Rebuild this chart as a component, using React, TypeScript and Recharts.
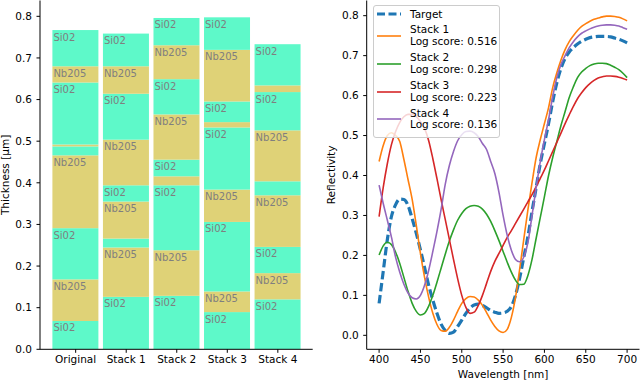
import React from 'react';
import { BarChart, Bar, XAxis, YAxis, LineChart, Line } from 'recharts';

// ---- left panel: layer stacks (thickness in µm, bottom to top, Si02 / Nb205 alternating)
const stackNames = ['Original', 'Stack 1', 'Stack 2', 'Stack 3', 'Stack 4'];
const originalLayers = [0.068, 0.1, 0.123, 0.175, 0.0215, 0.0045, 0.149, 0.039, 0.087];
const stack1Layers = [0.126, 0.1186, 0.0214, 0.089, 0.039, 0.1096, 0.1104, 0.066, 0.0785];
const stack2Layers = [0.1285, 0.1095, 0.156, 0.0216, 0.04, 0.1087, 0.0847, 0.0815, 0.0655];
const stack3Layers = [0.0894, 0.0496, 0.167, 0.0777, 0.1493, 0.0128, 0.0496, 0.124, 0.0782];
const stack4Layers = [0.12, 0.063, 0.063, 0.124, 0.0336, 0.1224, 0.092, 0.016, 0.099];
const materials = ['Si02', 'Nb205'];
const thicknessTicks = [0, 0.1, 0.2, 0.3, 0.4, 0.5, 0.6, 0.7, 0.8];

// ---- right panel: reflectivity spectra
const wavelengths = [
  400, 405, 410, 415, 420, 425, 430, 435, 440, 445, 450, 455, 460, 465, 470, 475, 480, 485, 490, 495,
  500, 505, 510, 515, 520, 525, 530, 535, 540, 545, 550, 555, 560, 565, 570, 575, 580, 585, 590, 595,
  600, 605, 610, 615, 620, 625, 630, 635, 640, 645, 650, 655, 660, 665, 670, 675, 680, 685, 690, 695, 700,
];
const target = [
  0.08, 0.16, 0.24, 0.298, 0.327, 0.341, 0.34, 0.325, 0.292, 0.255, 0.214, 0.17, 0.125, 0.088, 0.055, 0.028, 0.012, 0.005, 0.008, 0.022,
  0.038, 0.055, 0.068, 0.076, 0.078, 0.075, 0.069, 0.062, 0.058, 0.055, 0.056, 0.06, 0.072, 0.1, 0.143, 0.195, 0.247, 0.31, 0.37, 0.43,
  0.48, 0.53, 0.585, 0.632, 0.668, 0.693, 0.709, 0.72, 0.729, 0.736, 0.741, 0.745, 0.747, 0.748, 0.748, 0.748, 0.747, 0.744, 0.741, 0.737, 0.732,
];
const stack1 = [
  0.435, 0.475, 0.5, 0.507, 0.5, 0.485, 0.44, 0.39, 0.34, 0.275, 0.205, 0.145, 0.095, 0.055, 0.027, 0.012, 0.01, 0.02, 0.038, 0.06,
  0.08, 0.092, 0.097, 0.096, 0.088, 0.075, 0.057, 0.038, 0.022, 0.011, 0.007, 0.015, 0.045, 0.095, 0.165, 0.24, 0.314, 0.382, 0.445, 0.49,
  0.53, 0.57, 0.62, 0.657, 0.689, 0.715, 0.735, 0.75, 0.763, 0.773, 0.78, 0.786, 0.791, 0.794, 0.797, 0.799, 0.799, 0.798, 0.796, 0.792, 0.787,
];
const stack2 = [
  0.201, 0.224, 0.233, 0.227, 0.208, 0.18, 0.145, 0.11, 0.08, 0.06, 0.051, 0.055, 0.073, 0.1, 0.133, 0.168, 0.203, 0.236, 0.264, 0.288,
  0.305, 0.317, 0.323, 0.325, 0.323, 0.316, 0.303, 0.285, 0.262, 0.237, 0.21, 0.183, 0.158, 0.138, 0.127, 0.128, 0.15, 0.19, 0.243, 0.295,
  0.347, 0.4, 0.445, 0.485, 0.525, 0.56, 0.595, 0.622, 0.645, 0.659, 0.668, 0.675, 0.679, 0.681, 0.681, 0.68, 0.676, 0.671, 0.665, 0.656, 0.645,
];
const stack3 = [
  0.297, 0.37, 0.43, 0.478, 0.51, 0.533, 0.547, 0.553, 0.553, 0.547, 0.535, 0.518, 0.487, 0.442, 0.392, 0.34, 0.29, 0.24, 0.19, 0.142,
  0.1, 0.07, 0.055, 0.058, 0.075, 0.1, 0.13, 0.16, 0.185, 0.205, 0.225, 0.245, 0.262, 0.28, 0.298, 0.316, 0.334, 0.352, 0.372, 0.393,
  0.414, 0.437, 0.46, 0.483, 0.506, 0.53, 0.552, 0.573, 0.592, 0.607, 0.62, 0.63, 0.638, 0.644, 0.647, 0.649, 0.649, 0.648, 0.646, 0.643, 0.639,
];
const stack4 = [
  0.376, 0.33, 0.288, 0.245, 0.195, 0.158, 0.128, 0.106, 0.094, 0.091, 0.1, 0.125, 0.163, 0.21, 0.26, 0.315, 0.378, 0.425, 0.46, 0.487,
  0.502, 0.51, 0.511, 0.507, 0.497, 0.48, 0.465, 0.435, 0.405, 0.358, 0.3, 0.25, 0.213, 0.19, 0.184, 0.196, 0.232, 0.3, 0.37, 0.435,
  0.49, 0.54, 0.597, 0.645, 0.678, 0.7, 0.72, 0.735, 0.747, 0.756, 0.762, 0.767, 0.771, 0.774, 0.776, 0.777, 0.777, 0.776, 0.774, 0.77, 0.766,
];
const scores = ['0.516', '0.298', '0.223', '0.136'];
const wlTicks = [400, 450, 500, 550, 600, 650, 700];
const reflTicks = [0, 0.1, 0.2, 0.3, 0.4, 0.5, 0.6, 0.7, 0.8];

const FONT = 'DejaVu Sans';
const layerColors = ['#5ef9c9', '#dfd277'];
const lineColors = ['#1f77b4', '#ff7f0e', '#2ca02c', '#d62728', '#9467bd'];

const allLayers = [originalLayers, stack1Layers, stack2Layers, stack3Layers, stack4Layers];
const stackRows = stackNames.map((name, i) => {
  const row: Record<string, any> = { name };
  allLayers[i].forEach((t, j) => (row[`l${j}`] = t));
  return row;
});
const layerKeys = originalLayers.map((_, j) => `l${j}`);

const spectra = [target, stack1, stack2, stack3, stack4];
const spectraKeys = ['target', 's1', 's2', 's3', 's4'];
const specRows = wavelengths.map((wl, i) => {
  const row: Record<string, number> = { wl };
  spectra.forEach((s, k) => (row[spectraKeys[k]] = s[i]));
  return row;
});

const tickStyle = { fontSize: 10.5, fill: '#000', fontFamily: FONT };
const fmt1 = (v: number) => v.toFixed(1);

function LayerShape(props: any) {
  const { x, y, width, height, payload, layer } = props;
  const t = payload[`l${layer}`];
  return (
    <g>
      <rect x={x} y={y} width={width} height={height} fill={layerColors[layer % 2]} />
      {t > 0.035 && (
        <text x={x + 1} y={y + 10.5} fontSize={10} fill="#7f7f7f" fontFamily={FONT}>
          {materials[layer % 2]}
        </text>
      )}
    </g>
  );
}

function VerticalTitle(props: any) {
  const { viewBox, value, bx } = props;
  const cx = viewBox.x + bx;
  const cy = viewBox.y + viewBox.height / 2;
  return (
    <text x={cx} y={cy} transform={`rotate(-90, ${cx}, ${cy})`} textAnchor="middle" fontSize={10.5} fontFamily={FONT} fill="#000">
      {value}
    </text>
  );
}

function HorizontalTitle(props: any) {
  const { viewBox, value } = props;
  return (
    <text x={viewBox.x + viewBox.width / 2} y={viewBox.y + 29} textAnchor="middle" fontSize={10.5} fontFamily={FONT} fill="#000">
      {value}
    </text>
  );
}

function HandleLine({ color, dashed }: { color: string; dashed?: boolean }) {
  return (
    <svg width={26} height={8} style={{ display: 'block' }}>
      <line
        x1={1}
        y1={4}
        x2={25}
        y2={4}
        stroke={color}
        strokeWidth={dashed ? 3.2 : 1.6}
        strokeDasharray={dashed ? '8 3.5' : undefined}
      />
    </svg>
  );
}

function SpectraLegend() {
  const text = { fontSize: 10.5, fontFamily: FONT, lineHeight: '11.7px', color: '#000', whiteSpace: 'nowrap' as const };
  return (
    <div
      style={{
        position: 'absolute',
        left: 373,
        top: 5,
        width: 125,
        height: 128,
        border: '1px solid #cccccc',
        borderRadius: 3,
        background: 'rgba(255,255,255,0.8)',
        paddingTop: 2.5,
        boxSizing: 'content-box',
        display: 'flex',
        flexDirection: 'column',
        gap: 4.3,
      }}
    >
      <div style={{ display: 'flex', alignItems: 'center', height: 11.7 }}>
        <div style={{ width: 34, paddingLeft: 2 }}>
          <HandleLine color={lineColors[0]} dashed />
        </div>
        <div style={text}>Target</div>
      </div>
      {scores.map((s, i) => (
        <div key={i} style={{ display: 'flex', alignItems: 'center', height: 23.4 }}>
          <div style={{ width: 34, paddingLeft: 2 }}>
            <HandleLine color={lineColors[i + 1]} />
          </div>
          <div style={text}>
            <div>{`Stack ${i + 1}`}</div>
            <div>{`Log score: ${s}`}</div>
          </div>
        </div>
      ))}
    </div>
  );
}

export default function App() {
  return (
    <div style={{ position: 'absolute', left: 0, top: 0, width: 640, height: 382, background: '#fff' }}>
      <div style={{ position: 'absolute', left: 0, top: 0 }}>
        <BarChart width={320} height={382} data={stackRows} margin={{ top: 0.5, right: 7.3, bottom: 0, left: 0 }} barSize={46}>
          <XAxis
            dataKey="name"
            padding={{ left: 10.4, right: 9.6 }}
            height={32.7}
            interval={0}
            tick={tickStyle}
            tickSize={3.5}
            tickMargin={3}
            stroke="#000"
          />
          <XAxis xAxisId="top" orientation="top" dataKey="name" height={0} tick={false} tickLine={false} stroke="#000" />
          <YAxis
            domain={[0, 0.838]}
            ticks={thicknessTicks}
            allowDataOverflow
            width={40}
            tick={tickStyle}
            tickFormatter={fmt1}
            tickSize={3.5}
            tickMargin={4.5}
            stroke="#000"
            label={<VerticalTitle value="Thickness [µm]" bx={9.5} />}
          />
          <YAxis yAxisId="right" orientation="right" width={0} tick={false} tickLine={false} stroke="#000" />
          {layerKeys.map((k, j) => (
            <Bar
              key={k}
              dataKey={k}
              stackId="a"
              isAnimationActive={false}
              shape={(p: any) => <LayerShape {...p} layer={j} />}
            />
          ))}
        </BarChart>
      </div>
      <div style={{ position: 'absolute', left: 320, top: 0 }}>
        <LineChart width={320} height={382} data={specRows} margin={{ top: 0.5, right: 0.5, bottom: 0, left: 0 }}>
          <XAxis
            dataKey="wl"
            type="number"
            domain={[385, 715]}
            ticks={wlTicks}
            allowDataOverflow
            height={32.7}
            tick={tickStyle}
            tickSize={3.5}
            tickMargin={3}
            stroke="#000"
            label={<HorizontalTitle value="Wavelength [nm]" />}
          />
          <XAxis xAxisId="top" orientation="top" dataKey="wl" type="number" domain={[385, 715]} height={0} tick={false} tickLine={false} stroke="#000" />
          <YAxis
            domain={[-0.035, 0.838]}
            ticks={reflTicks}
            allowDataOverflow
            width={46.7}
            tick={tickStyle}
            tickFormatter={fmt1}
            tickSize={3.5}
            tickMargin={4.5}
            stroke="#000"
            label={<VerticalTitle value="Reflectivity" bx={15} />}
          />
          <YAxis yAxisId="right" orientation="right" width={0} tick={false} tickLine={false} stroke="#000" />
          <Line
            dataKey="target"
            type="monotone"
            stroke={lineColors[0]}
            strokeWidth={3.2}
            strokeDasharray="8.5 3.6"
            dot={false}
            isAnimationActive={false}
          />
          {spectraKeys.slice(1).map((k, i) => (
            <Line
              key={k}
              dataKey={k}
              type="monotone"
              stroke={lineColors[i + 1]}
              strokeWidth={1.6}
              dot={false}
              isAnimationActive={false}
            />
          ))}
        </LineChart>
        <div style={{ position: 'absolute', left: -320, top: 0 }}>
          <SpectraLegend />
        </div>
      </div>
    </div>
  );
}
